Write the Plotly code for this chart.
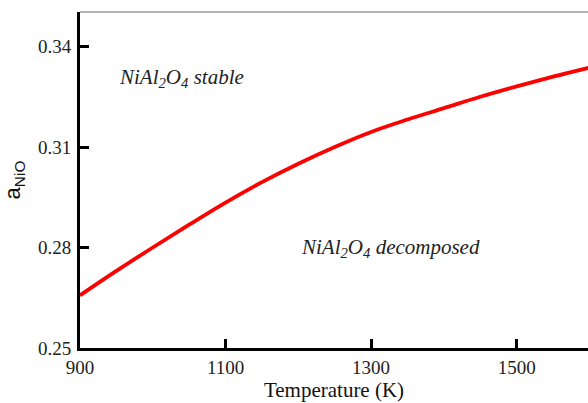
import plotly.graph_objects as go

temperature = [900, 950, 1000, 1050, 1100, 1150, 1200, 1250, 1300, 1350, 1400, 1450, 1500, 1550, 1600]
a_nio = [0.2657, 0.2730, 0.2800, 0.2868, 0.2934, 0.2995, 0.3050, 0.3100, 0.3145, 0.3182, 0.3216, 0.3250, 0.3281, 0.3310, 0.3337]
x_ticks = [900, 1100, 1300, 1500]
y_ticks = [0.25, 0.28, 0.31, 0.34]

serif = "Liberation Serif"

fig = go.Figure()
fig.add_trace(go.Scatter(x=temperature, y=a_nio, mode="lines",
                         line=dict(color="#ff0000", width=3.8, shape="spline"),
                         showlegend=False))

fig.update_layout(
    width=588, height=403,
    margin=dict(l=80, r=0, t=12, b=55),
    paper_bgcolor="white", plot_bgcolor="white",
    xaxis=dict(range=[900, 1598], tickvals=x_ticks, ticktext=[str(v) for v in x_ticks],
               showgrid=False, zeroline=False, showline=True, linecolor="black", linewidth=3,
               ticks="inside", ticklen=9, tickwidth=2.5, tickcolor="black",
               tickfont=dict(family=serif, size=19, color="#222"),
               ticklabelstandoff=0,
               title=dict(text="Temperature (K)", font=dict(family=serif, size=21, color="#111"), standoff=0)),
    yaxis=dict(range=[0.25, 0.3503], tickvals=y_ticks, ticktext=["0.25", "0.28", "0.31", "0.34"],
               showgrid=False, zeroline=False, showline=True, linecolor="black", linewidth=3,
               ticks="inside", ticklen=9, tickwidth=2.5, tickcolor="black",
               tickfont=dict(family=serif, size=19, color="#222"),
               ticklabelstandoff=2,
               title=dict(text="a<sub>NiO</sub>", font=dict(family="Liberation Sans", size=22, color="#111"), standoff=14)),
    shapes=[dict(type="line", xref="paper", yref="paper", x0=0, x1=1, y0=1, y1=1,
                 line=dict(color="#999", width=1.5))],
    annotations=[
        dict(x=1039, y=0.3307, xref="x", yref="y", showarrow=False,
             text="<i>NiAl<sub>2</sub>O<sub>4</sub> stable</i>",
             font=dict(family=serif, size=21, color="#222")),
        dict(x=1326, y=0.2800, xref="x", yref="y", showarrow=False,
             text="<i>NiAl<sub>2</sub>O<sub>4</sub> decomposed</i>",
             font=dict(family=serif, size=21, color="#222")),
    ],
)

fig.write_html("out.html")
